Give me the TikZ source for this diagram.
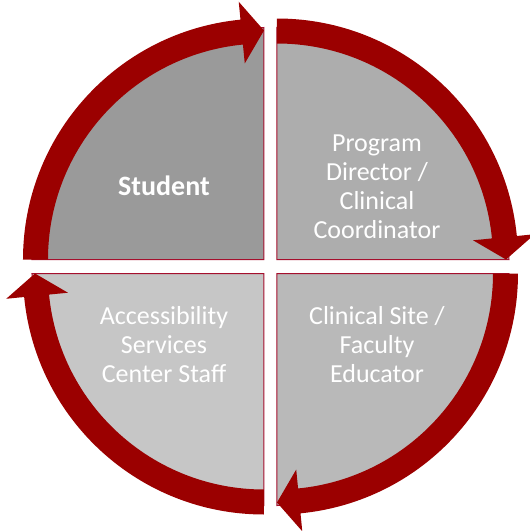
\documentclass[tikz,border=0pt]{standalone}
\usepackage{fontspec}
\setmainfont{Carlito}
\begin{document}
\begin{tikzpicture}[x=1pt,y=1pt,
  quad/.style={draw=edgered, line width=1pt},
  ring/.style={fill=ringred},
  label/.style={text=white, align=center, inner sep=0pt,
    font=\fontsize{26}{29}\selectfont}]
\definecolor{ringred}{RGB}{155,0,0}
\definecolor{edgered}{RGB}{165,15,45}
\definecolor{greyA}{RGB}{154,154,154}
\definecolor{greyB}{RGB}{173,173,173}
\definecolor{greyC}{RGB}{185,185,185}
\definecolor{greyD}{RGB}{198,198,198}
\useasboundingbox (-270.5,-264.5) rectangle (259.5,266.5);

% radii: quarter discs, band of the arrows, arrow heads
\def\Rq{232}\def\Ri{216}\def\Ro{241}\def\Rhi{197}\def\Rho{259}\def\Rt{229}\def\hb{5.6}

% one quarter disc with its clockwise arrow, drawn about its own corner
\newcommand\quarter[3]{% #1 corner, #2 start angle, #3 fill colour
  \begin{scope}[shift={#1}]
    \pgfmathsetmacro\endang{#2-90}
    \pgfmathsetmacro\backang{#2-90+\hb}
    \filldraw[quad, fill=#3] (0,0) -- (#2:\Rq) arc[start angle=#2, end angle=\endang, radius=\Rq] -- cycle;
    \fill[ring] (#2:\Ro) arc[start angle=#2, end angle=\backang, radius=\Ro]
      -- (\backang:\Rho) -- (\endang:\Rt) -- (\backang:\Rhi) -- (\backang:\Ri)
      arc[start angle=\backang, end angle=#2, radius=\Ri] -- cycle;
  \end{scope}}

\quarter{(-6.5,7)}{180}{greyA}
\quarter{(6.5,7)}{90}{greyB}
\quarter{(6.5,-7)}{0}{greyC}
\quarter{(-6.5,-7)}{-90}{greyD}

\node[label, font=\fontsize{28}{32}\selectfont\bfseries] (student) at (-106.5,80.5) {Student};
\node[label] (director) at (106.5,80) {Program\\Director /\\Clinical\\Coordinator};
\node[label] (site) at (106.5,-78.5) {Clinical Site /\\Faculty\\Educator};
\node[label] (access) at (-106.5,-78.5) {Accessibility\\Services\\Center Staff};
\end{tikzpicture}
\end{document}
